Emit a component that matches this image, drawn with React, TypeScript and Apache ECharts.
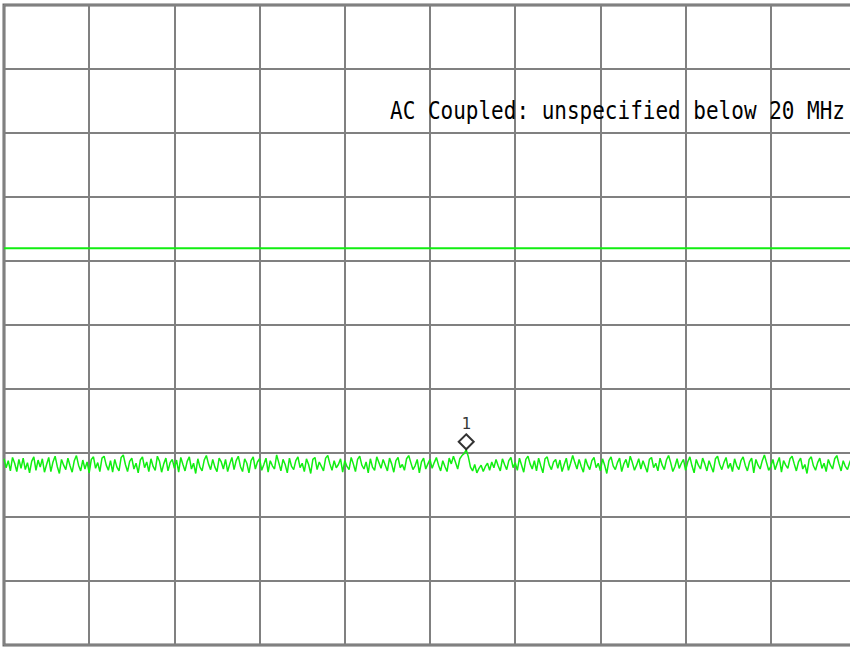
import React, { useEffect, useRef } from "react";
import * as echarts from "echarts";

// Spectrum trace: 401 points across 10 horizontal divisions (dBm)
const traceValues: number[] = [
  -70.9,-72.3,-71.2,-72.8,-70.7,-71.6,-72.9,-71.0,-72.4,-70.8,-72.6,-71.5,-73.1,-71.3,-70.6,-72.7,-71.1,-72.2,-70.9,-73.0,
  -71.8,-70.7,-72.9,-71.4,-70.5,-72.1,-73.2,-71.0,-71.9,-72.6,-70.8,-72.0,-73.0,-71.2,-70.4,-71.9,-72.8,-71.1,-72.5,-71.4,
  -73.1,-71.0,-70.6,-72.4,-71.5,-72.9,-70.8,-70.5,-71.9,-72.7,-71.2,-73.0,-71.0,-72.2,-72.8,-70.7,-70.3,-71.8,-72.9,-71.3,
  -70.8,-72.5,-71.6,-73.1,-71.1,-70.6,-72.3,-71.4,-72.9,-70.9,-72.1,-72.7,-70.5,-71.3,-73.0,-71.7,-70.8,-72.8,-71.5,-71.0,
  -72.4,-71.1,-73.0,-70.7,-71.8,-72.8,-71.3,-70.6,-72.5,-71.6,-73.2,-70.9,-72.2,-72.8,-71.1,-70.4,-71.7,-72.6,-71.0,-72.2,
  -72.9,-70.8,-71.4,-72.5,-71.0,-72.9,-71.7,-70.7,-72.6,-71.2,-70.5,-72.1,-72.9,-70.9,-71.6,-73.1,-71.2,-70.6,-72.5,-71.4,
  -70.9,-72.7,-71.8,-70.8,-73.0,-71.2,-72.0,-72.5,-70.3,-71.5,-72.8,-71.0,-71.8,-73.1,-70.8,-72.1,-72.6,-71.2,-70.6,-72.3,
  -71.6,-72.9,-70.9,-71.8,-73.2,-71.0,-70.7,-72.6,-71.4,-72.1,-72.8,-70.8,-70.4,-71.7,-72.7,-71.2,-72.3,-71.8,-70.9,-73.0,
  -71.2,-72.1,-72.6,-70.7,-71.7,-72.9,-71.0,-70.5,-71.9,-72.5,-71.4,-73.1,-70.9,-72.2,-72.7,-70.6,-71.5,-72.4,-71.0,-71.9,
  -72.8,-70.8,-71.7,-73.0,-71.2,-70.7,-72.3,-71.8,-72.7,-70.9,-70.4,-71.5,-72.6,-72.0,-71.0,-73.1,-71.4,-70.8,-72.5,-71.7,
  -71.0,-72.4,-71.5,-70.7,-71.9,-72.8,-71.2,-72.1,-72.9,-70.8,-71.7,-70.5,-71.5,-72.5,-70.9,-70.4,-70.1,-69.5,-70.6,-72.2,
  -72.8,-71.8,-73.1,-72.4,-71.9,-72.9,-72.1,-71.6,-72.7,-71.4,-72.3,-71.0,-72.0,-72.8,-70.9,-71.8,-72.6,-71.2,-70.7,-72.3,
  -71.5,-72.7,-70.8,-71.9,-73.0,-71.0,-70.5,-71.7,-72.5,-71.2,-72.8,-70.8,-72.0,-73.1,-70.9,-70.6,-71.9,-72.6,-71.4,-71.0,
  -72.4,-71.1,-72.9,-71.8,-70.8,-72.7,-71.6,-70.4,-71.5,-72.5,-71.0,-72.1,-73.0,-70.9,-71.9,-72.6,-71.2,-70.7,-72.3,-71.6,
  -72.8,-70.9,-71.9,-73.2,-71.2,-70.6,-72.0,-72.6,-71.5,-70.8,-72.9,-71.7,-71.0,-72.3,-70.5,-71.5,-72.7,-71.9,-70.9,-72.5,
  -71.2,-72.1,-73.0,-71.0,-70.7,-72.3,-71.6,-72.8,-70.8,-71.9,-72.6,-71.1,-70.4,-71.5,-72.9,-72.1,-70.9,-72.4,-71.6,-71.0,
  -72.7,-71.4,-70.6,-72.0,-73.1,-71.0,-71.9,-72.5,-70.8,-71.7,-72.8,-71.2,-72.1,-73.0,-70.9,-70.5,-71.8,-72.6,-71.5,-70.7,
  -72.4,-71.6,-72.9,-70.9,-72.0,-72.6,-71.2,-70.6,-71.9,-72.8,-71.4,-70.8,-73.1,-71.0,-71.9,-72.5,-71.2,-70.3,-71.5,-72.7,
  -72.1,-71.0,-72.6,-71.6,-70.7,-73.0,-71.2,-71.9,-72.4,-70.9,-70.5,-71.7,-72.8,-71.4,-70.8,-72.5,-71.8,-73.2,-71.0,-70.6,
  -72.0,-72.7,-71.5,-70.8,-72.4,-71.6,-72.9,-71.0,-71.9,-72.5,-70.9,-70.4,-71.7,-72.8,-71.2,-72.1,-72.6,-71.5,-70.7,-71.9,
  -72.3,
];

const spanDivisions = 10;
const displayLineLevel = -38; // dBm, green display line
const markerIndex = 217;
const markerLabel = "1";
const annotationText = "AC Coupled: unspecified below 20 MHz";

export default function App() {
  const ref = useRef<HTMLDivElement>(null);

  useEffect(() => {
    document.body.style.margin = "0";
    if (!ref.current) return;
    const chart = echarts.init(ref.current, undefined, { renderer: "svg" });

    const n = traceValues.length;
    const tracePoints = traceValues.map((v, i) => [(i * spanDivisions) / (n - 1), v]);
    const markerPoint = tracePoints[markerIndex];

    const axisCommon = {
      axisLine: { show: false },
      axisTick: { show: false },
      axisLabel: { show: false },
      splitLine: { show: true, lineStyle: { color: "#808080", width: 2 } },
    };

    chart.setOption({
      animation: false,
      backgroundColor: "#ffffff",
      grid: {
        left: 4,
        top: 5,
        width: 852,
        height: 640,
        outerBoundsMode: "none",
        containLabel: false,
        show: true,
        borderColor: "#6a6a6a",
        borderWidth: 3,
        backgroundColor: "#ffffff",
      },
      xAxis: { type: "value", min: 0, max: spanDivisions, interval: 1, ...axisCommon },
      yAxis: { type: "value", min: -100, max: 0, interval: 10, ...axisCommon },
      series: [
        {
          type: "line",
          data: [
            [0, displayLineLevel],
            [spanDivisions, displayLineLevel],
          ],
          symbol: "none",
          lineStyle: { color: "#11ee11", width: 2 },
          z: 3,
        },
        {
          type: "line",
          data: tracePoints,
          symbol: "none",
          lineStyle: { color: "#11ee11", width: 1.5 },
          z: 3,
        },
        {
          type: "scatter",
          data: [markerPoint],
          symbol: "diamond",
          symbolSize: [15, 15],
          symbolOffset: [0, -8],
          itemStyle: { color: "#ffffff", borderColor: "#000000", borderWidth: 2 },
          label: {
            show: true,
            formatter: markerLabel,
            position: "top",
            distance: 2,
            color: "#000000",
            fontFamily: "DejaVu Sans Mono",
            fontSize: 16,
          },
          z: 5,
        },
      ],
      graphic: [
        {
          type: "text",
          x: 390,
          y: 97,
          scaleY: 1.2,
          z: 10,
          style: {
            text: annotationText,
            fill: "#000000",
            fontFamily: "DejaVu Sans Mono",
            fontSize: 21,
            textVerticalAlign: "top",
            verticalAlign: "top",
          },
        },
      ],
    });

    return () => chart.dispose();
  }, []);

  return (
    <div
      ref={ref}
      style={{ position: "absolute", left: 0, top: 0, width: 850, height: 650 }}
    />
  );
}
